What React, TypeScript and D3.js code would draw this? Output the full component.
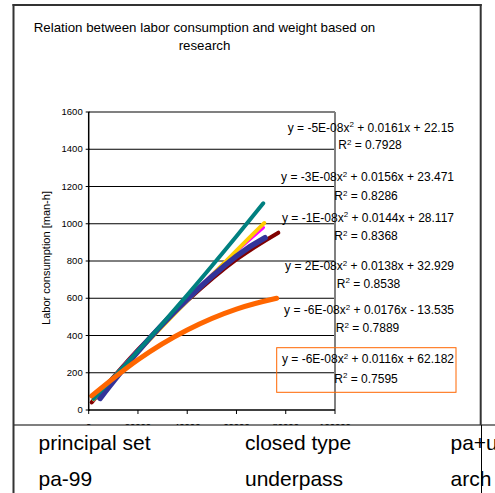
import React from "react";
import * as d3 from "d3";

// title and axes
const titleLines = ["Relation between labor consumption and weight based on", "research"];
const yAxisTitle = "Labor consumption [man-h]";
const yTicks = [0, 200, 400, 600, 800, 1000, 1200, 1400, 1600];
const xTicks = [0, 20000, 40000, 60000, 80000, 100000];

// data table under the chart (cut off by the window)
const tableRow1 = ["principal set", "closed type", "pa+u"];
const tableRow2 = ["pa-99", "underpass", "arch"];

// trend lines: weight -> labor consumption
const redX = [1200, 20000, 40000, 60000, 77000];
const redY = [41, 324, 586, 808, 952];
const magentaX = [2000, 20000, 40000, 60000, 71000];
const magentaY = [54, 323, 599, 851, 980];
const yellowX = [2000, 20000, 40000, 60000, 71300];
const yellowY = [57, 312, 588, 856, 1004];
const tealX = [2000, 20000, 40000, 60000, 70900];
const tealY = [60, 317, 617, 933, 1110];
const navyX = [4600, 20000, 40000, 60000, 71600];
const navyY = [62, 314, 594, 826, 925];
const orangeX = [1200, 20000, 40000, 60000, 76300];
const orangeY = [76, 270, 430, 542, 600];

// trendline labels (top to bottom)
const eqHead = ["y = -5E-08x", "y = -3E-08x", "y = -1E-08x", "y = 2E-08x", "y = -6E-08x", "y = -6E-08x"];
const eqTail = [" + 0.0161x + 22.15", " + 0.0156x + 23.471", " + 0.0144x + 28.117", " + 0.0138x + 32.929", " + 0.0176x - 13.535", " + 0.0116x + 62.182"];
const r2Values = ["0.7928", "0.8286", "0.8368", "0.8538", "0.7889", "0.7595"];

const W = 495;
const H = 493;
const font = "'Liberation Sans', Arial, sans-serif";

const plot = { left: 88.7, right: 335, top: 112, bottom: 410 };

const App: React.FC = () => {
  const x = d3.scaleLinear().domain([0, 100000]).range([plot.left, plot.right]);
  const y = d3.scaleLinear().domain([0, 1600]).range([plot.bottom, plot.top]);

  const line = (xs: number[], ys: number[]) =>
    d3.line<number>()
      .x((_, i) => x(xs[i]))
      .y((d) => y(d))
      .curve(d3.curveNatural)(ys) || "";

  // drawing order: bottom first
  const series = [
    { xs: redX, ys: redY, color: "#800000", w: 4 },
    { xs: magentaX, ys: magentaY, color: "#FF00FF", w: 3 },
    { xs: yellowX, ys: yellowY, color: "#FFCC00", w: 4 },
    { xs: navyX, ys: navyY, color: "#333399", w: 5.5 },
    { xs: tealX, ys: tealY, color: "#008080", w: 4 },
    { xs: orangeX, ys: orangeY, color: "#FF6600", w: 5 },
  ];

  // label baselines
  const eqY = [131.7, 181, 221.7, 270, 314, 363.3];
  const r2Y = [149.3, 200, 240, 287.7, 332.3, 382.7];
  const eqRight = 454;
  const eqCenter = [370, 366, 366, 368.5, 367.5, 366];

  const tableX = [38.5, 245, 450.5];

  return (
    <svg width={W} height={H} style={{ position: "absolute", left: 0, top: 0 }} fontFamily={font}>
      <rect width={W} height={H} fill="#fff" />

      {/* title */}
      {titleLines.map((t, i) => (
        <text key={i} x={204.5} y={32 + i * 18} textAnchor="middle" fontSize={13.3} fill="#000">{t}</text>
      ))}

      {/* gridlines */}
      {yTicks.slice(1, -1).map((t) => (
        <line key={t} x1={plot.left} x2={plot.right} y1={y(t)} y2={y(t)} stroke="#000" strokeWidth={1} />
      ))}

      {/* trend lines */}
      {series.map((s, i) => (
        <path key={i} d={line(s.xs, s.ys)} fill="none" stroke={s.color} strokeWidth={s.w} strokeLinecap="round" />
      ))}

      {/* plot frame */}
      <line x1={plot.left} x2={plot.right} y1={plot.top} y2={plot.top} stroke="#808080" strokeWidth={2} />
      <line x1={plot.right} x2={plot.right} y1={plot.top} y2={plot.bottom} stroke="#808080" strokeWidth={2} />
      <line x1={plot.left} x2={plot.left} y1={plot.top} y2={plot.bottom + 1} stroke="#000" strokeWidth={1.5} />
      <line x1={plot.left} x2={plot.right} y1={plot.bottom} y2={plot.bottom} stroke="#000" strokeWidth={1.5} />

      {/* y ticks */}
      {yTicks.map((t) => (
        <g key={t}>
          <line x1={plot.left - 3} x2={plot.left + 1} y1={y(t)} y2={y(t)} stroke="#000" />
          <text x={82.7} y={y(t) + 3.2} textAnchor="end" fontSize={9.5} fill="#000">{t}</text>
        </g>
      ))}
      <text transform="translate(49.5,258) rotate(-90)" textAnchor="middle" fontSize={11} fill="#000">{yAxisTitle}</text>

      {/* x ticks */}
      {xTicks.map((t) => (
        <g key={t}>
          <line x1={x(t)} x2={x(t)} y1={plot.bottom} y2={plot.bottom + 4} stroke="#000" />
          <text x={x(t)} y={430} textAnchor="middle" fontSize={9.5} fill="#000">{t}</text>
        </g>
      ))}

      {/* trendline labels */}
      <rect x={276.7} y={347.7} width={179.3} height={44.6} fill="none" stroke="#FF6600" strokeWidth={1} />
      {eqHead.map((h, i) => (
        <g key={i} fontSize={12} fill="#000">
          <text x={eqRight} y={eqY[i]} textAnchor="end">
            {h}
            <tspan dy={-4.5} fontSize={8}>2</tspan>
            <tspan dy={4.5}>{eqTail[i]}</tspan>
          </text>
          <text x={eqCenter[i]} y={r2Y[i]} textAnchor="middle">
            R<tspan dy={-4.5} fontSize={8}>2</tspan>
            <tspan dy={4.5}>{" = " + r2Values[i]}</tspan>
          </text>
        </g>
      ))}

      {/* table below the chart */}
      <rect x={13.5} y={425} width={W - 13.5} height={H - 425} fill="#fff" />
      <line x1={13.5} x2={W} y1={425} y2={425} stroke="#000" strokeWidth={1.2} />
      {[tableRow1, tableRow2].map((row, r) =>
        row.map((t, c) => (
          <text key={r + "-" + c} x={tableX[c]} y={450 + r * 36} fontSize={21} fill="#000">{t}</text>
        ))
      )}
      <line x1={481.5} x2={481.5} y1={425} y2={H} stroke="#000" strokeWidth={1} />

      {/* outer border */}
      <line x1={13.5} x2={13.5} y1={4} y2={H} stroke="#333" strokeWidth={2} />
      <line x1={12.5} x2={481.7} y1={5} y2={5} stroke="#333" strokeWidth={2} />
      <line x1={480.7} x2={480.7} y1={4} y2={425} stroke="#333" strokeWidth={2} />
    </svg>
  );
};

export default App;
